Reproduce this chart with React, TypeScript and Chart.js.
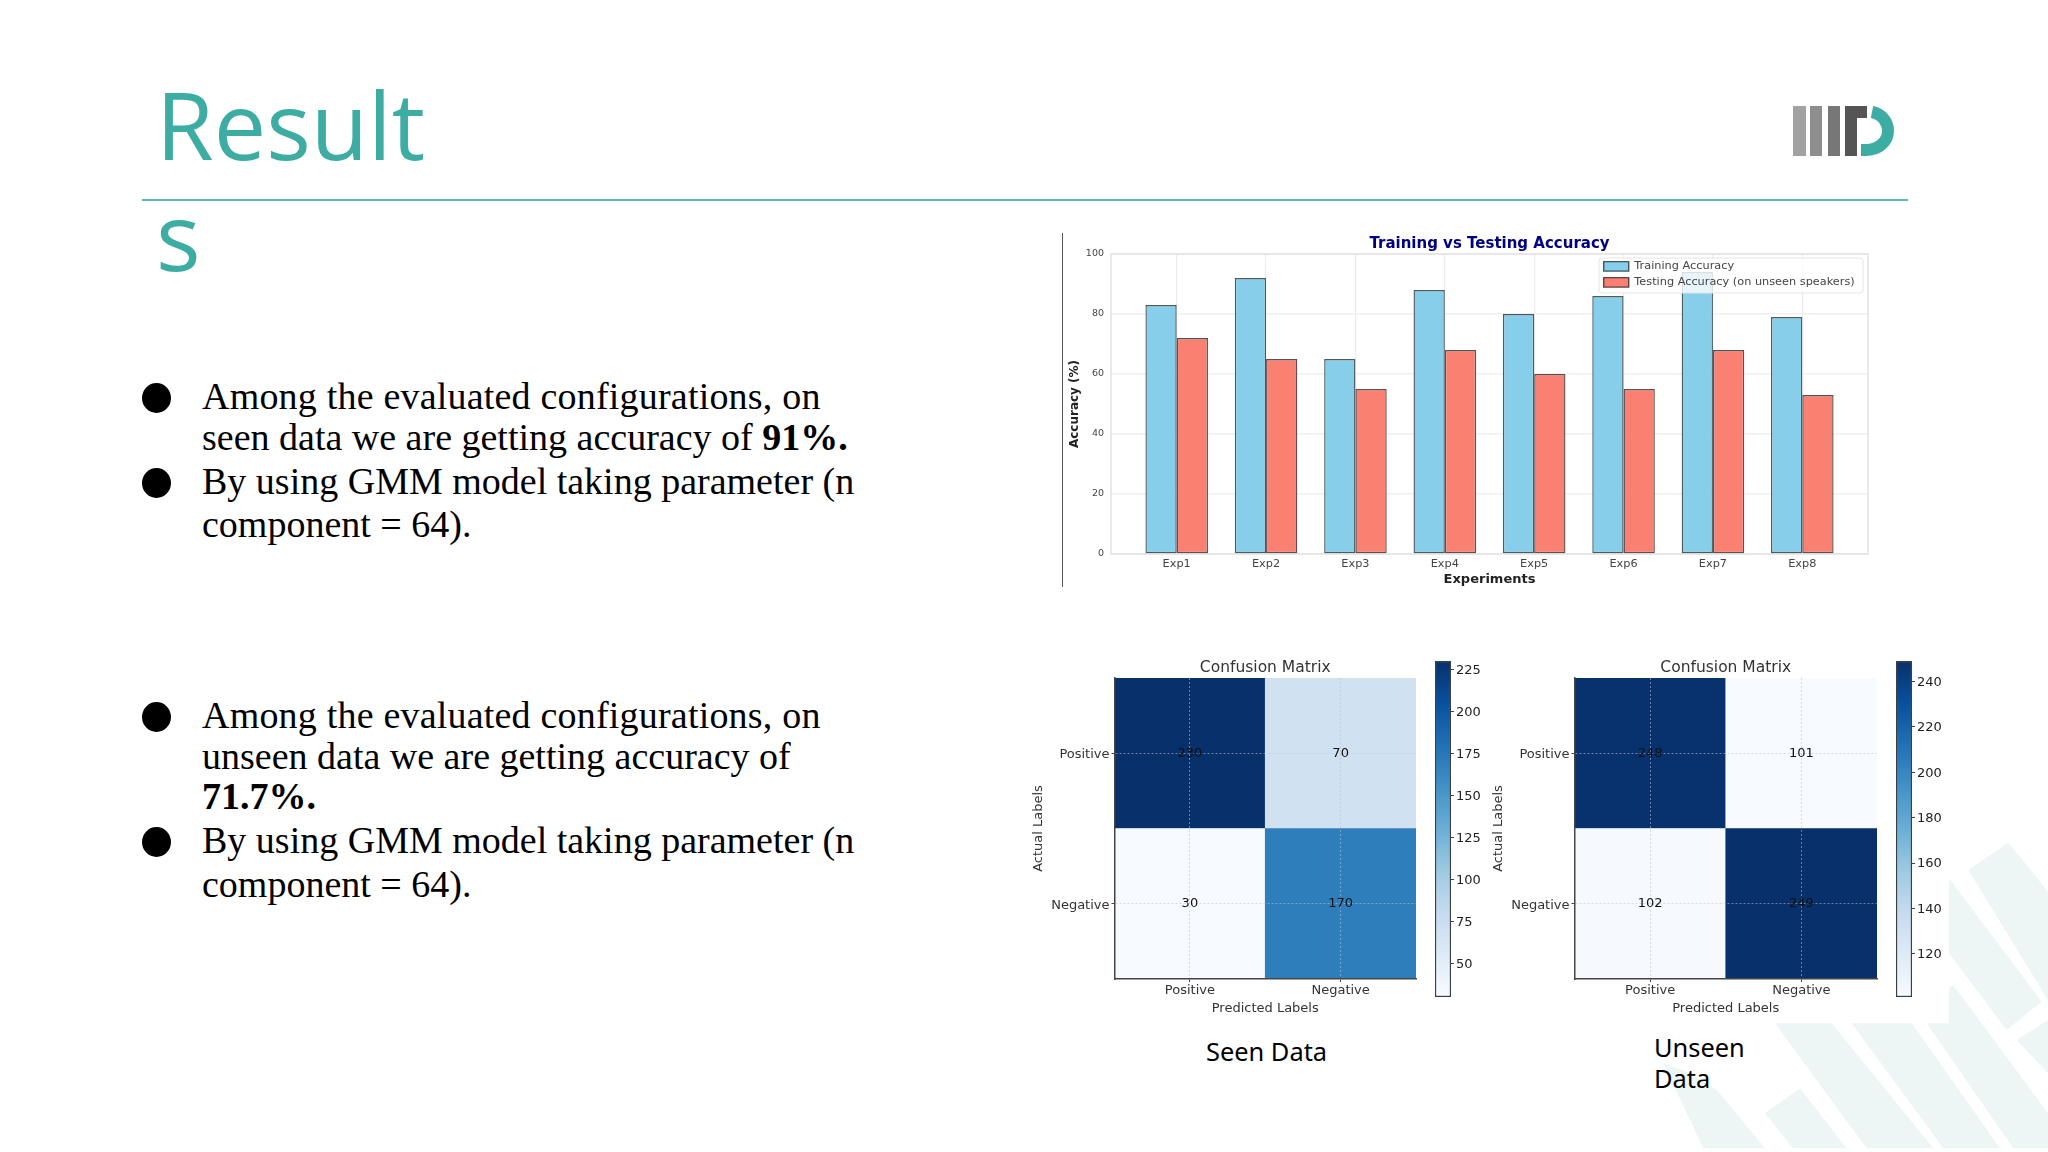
import React, { useEffect, useRef } from "react";
import { Chart, registerables } from "chart.js";

Chart.register(...registerables);
Chart.defaults.font.family = "'DejaVu Sans', sans-serif";

const experiments = ["Exp1", "Exp2", "Exp3", "Exp4", "Exp5", "Exp6", "Exp7", "Exp8"];
const trainingAccuracy = [83, 92, 65, 88, 80, 86, 94, 79];
const testingAccuracy = [72, 65, 55, 68, 60, 55, 68, 53];

const predictedLabels = ["Positive", "Negative"];
const actualLabels = ["Positive", "Negative"];
const seenMatrix = [
  [230, 70],
  [30, 170],
];
const unseenMatrix = [
  [248, 101],
  [102, 249],
];
const seenColorTicks = [50, 75, 100, 125, 150, 175, 200, 225];
const unseenColorTicks = [120, 140, 160, 180, 200, 220, 240];

const BLUES = ["#f7fbff", "#deebf7", "#c6dbef", "#9ecae1", "#6baed6", "#4292c6", "#2171b5", "#08519c", "#08306b"];

const TEAL = "#3dada3";

function hex(c: string) {
  return [1, 3, 5].map((i) => parseInt(c.slice(i, i + 2), 16));
}

// same lookup as matplotlib's Blues
function bluesAt(t: number) {
  const p = Math.min(Math.max(t, 0), 1) * (BLUES.length - 1);
  const i = Math.min(Math.floor(p), BLUES.length - 2);
  const a = hex(BLUES[i]);
  const b = hex(BLUES[i + 1]);
  const f = p - i;
  return `rgb(${a.map((v, k) => Math.round(v + (b[k] - v) * f)).join(",")})`;
}

function minMax(matrix: number[][]) {
  const flat = matrix.flat();
  return [Math.min(...flat), Math.max(...flat)];
}

function AccuracyChart() {
  const ref = useRef<HTMLCanvasElement | null>(null);

  useEffect(() => {
    if (!ref.current) return;

    const legendOnTop = {
      id: "legendOnTop",
      beforeLayout(chart: any) {
        const legend = chart.legend;
        legend._layers = () => [
          {
            z: 10,
            draw() {
              const c = chart.ctx;
              c.save();
              c.beginPath();
              c.roundRect(535, 24, 264, 35, 3);
              c.fillStyle = "rgba(255,255,255,0.8)";
              c.fill();
              c.strokeStyle = "#e4e4e4";
              c.lineWidth = 1;
              c.stroke();
              c.restore();
              legend.draw();
            },
          },
        ];
      },
      afterLayout(chart: any) {
        const legend = chart.legend;
        legend.left = 535;
        legend.top = 22;
        legend.right = chart.width;
        legend.bottom = chart.height;
        legend.width = chart.width - 535;
        legend.height = chart.height - 22;
      },
      beforeDatasetsDraw(chart: any) {
        const { ctx: c, chartArea: a } = chart;
        c.save();
        c.strokeStyle = "#e2e2e2";
        c.lineWidth = 1.5;
        c.strokeRect(a.left, a.top, a.right - a.left, a.bottom - a.top);
        c.restore();
      },
    };

    const chart = new Chart(ref.current, {
      type: "bar",
      data: {
        datasets: [
          {
            label: "Training Accuracy",
            data: trainingAccuracy.map((y, x) => ({ x, y })),
            backgroundColor: "#87ceeb",
            borderColor: "rgba(25,45,50,0.78)",
            borderWidth: 1.4,
            borderSkipped: false,
          },
          {
            label: "Testing Accuracy (on unseen speakers)",
            data: testingAccuracy.map((y, x) => ({ x, y })),
            backgroundColor: "#fa8072",
            borderColor: "rgba(50,30,30,0.78)",
            borderWidth: 1.4,
            borderSkipped: false,
          },
        ],
      },
      options: {
        responsive: false,
        animation: false,
        layout: { padding: { right: 12 } },
        datasets: { bar: { categoryPercentage: 0.7, barPercentage: 1 } },
        plugins: {
          tooltip: { enabled: false },
          title: {
            display: true,
            fullSize: false,
            text: "Training vs Testing Accuracy",
            color: "#000080",
            font: { size: 15, weight: "bold" },
            padding: { top: 1, bottom: 1 },
          },
          legend: {
            position: "chartArea",
            align: "start",
            labels: { boxWidth: 25, boxHeight: 9.5, padding: 4.7, color: "#444", font: { size: 11.3 } },
          },
        },
        scales: {
          x: {
            type: "linear",
            offset: false,
            min: -0.735,
            max: 7.735,
            afterBuildTicks: (axis: any) => {
              axis.ticks = experiments.map((_, value) => ({ value }));
            },
            afterFit: (s: any) => {
              s.height = 34;
            },
            ticks: {
              callback: (v: any) => experiments[v],
              color: "#444",
              font: { size: 11.3 },
              padding: 3,
              maxRotation: 0,
            },
            grid: { offset: false, color: "#ebebeb", lineWidth: 1.2, drawTicks: false },
            border: { display: false },
            title: {
              display: true,
              text: "Experiments",
              color: "#222",
              font: { size: 13, weight: "bold" },
              padding: { top: 0, bottom: 1 },
            },
          },
          y: {
            min: 0,
            max: 100,
            afterFit: (s: any) => {
              s.width = 47;
            },
            ticks: { stepSize: 20, color: "#444", font: { size: 9.5 }, padding: 7 },
            grid: { color: "#f0f0f0", lineWidth: 1.5, drawTicks: false },
            border: { display: false },
            title: {
              display: true,
              text: "Accuracy (%)",
              color: "#222",
              font: { size: 12, weight: "bold" },
              padding: { top: 4, bottom: 0 },
            },
          },
        },
      },
      plugins: [legendOnTop],
    } as any);

    return () => {
      chart.destroy();
    };
  }, []);

  return (
    <canvas
      ref={ref}
      width={816}
      height={354}
      style={{ position: "absolute", left: 1064, top: 234, display: "block" }}
    />
  );
}

function MatrixChart({ matrix, left, width }: { matrix: number[][]; left: number; width: number }) {
  const ref = useRef<HTMLCanvasElement | null>(null);

  useEffect(() => {
    if (!ref.current) return;
    const [lo, hi] = minMax(matrix);
    // rows stack from the bottom, so the last row goes first
    const rows = matrix.map((row, r) => ({ row, r })).reverse();

    const cellLabels = {
      id: "cellLabels",
      afterDraw(chart: any) {
        const c = chart.ctx;
        c.save();
        c.font = "13px 'DejaVu Sans'";
        c.fillStyle = "#111";
        c.textAlign = "center";
        c.textBaseline = "middle";
        rows.forEach(({ row }, d) => {
          chart.getDatasetMeta(d).data.forEach((bar: any, i: number) => {
            const p = bar.getCenterPoint();
            c.fillText(String(row[i]), p.x, p.y);
          });
        });
        c.restore();
      },
    };

    const chart = new Chart(ref.current, {
      type: "bar",
      data: {
        labels: predictedLabels,
        datasets: rows.map(({ row, r }) => ({
          label: actualLabels[r],
          data: row.map(() => 1),
          backgroundColor: row.map((v) => bluesAt((v - lo) / (hi - lo))),
          borderWidth: 0,
        })),
      },
      options: {
        responsive: false,
        animation: false,
        layout: { padding: { right: 6 } },
        datasets: { bar: { categoryPercentage: 1, barPercentage: 1 } },
        plugins: {
          tooltip: { enabled: false },
          legend: { display: false },
          title: {
            display: true,
            fullSize: false,
            text: "Confusion Matrix",
            color: "#333",
            font: { size: 15.5, weight: "normal" },
            padding: { top: 8.4, bottom: 1 },
          },
        },
        scales: {
          x: {
            stacked: true,
            afterFit: (s: any) => {
              s.height = 41;
            },
            ticks: { color: "#333", font: { size: 13 }, padding: 1, maxRotation: 0 },
            grid: {
              offset: false,
              z: 1,
              color: "rgba(190,195,205,0.55)",
              tickColor: "#444",
              tickLength: 3,
            },
            border: { z: 1, color: "#444", width: 1.5, dash: [2, 2] },
            title: {
              display: true,
              text: "Predicted Labels",
              color: "#333",
              font: { size: 13 },
              padding: { top: 0, bottom: 4 },
            },
          },
          y: {
            stacked: true,
            min: 0,
            max: 2,
            afterBuildTicks: (axis: any) => {
              axis.ticks = actualLabels.map((_, i) => ({ value: actualLabels.length - i - 0.5 }));
            },
            afterFit: (s: any) => {
              s.width = 94.5;
            },
            ticks: {
              callback: (v: any) => actualLabels[actualLabels.length - 0.5 - v],
              color: "#333",
              font: { size: 13 },
              padding: 2,
              labelOffset: 1.5,
            },
            grid: {
              z: 1,
              color: "rgba(190,195,205,0.55)",
              tickColor: "#444",
              tickLength: 3,
            },
            border: { z: 1, color: "#444", width: 1.5, dash: [2, 2] },
            title: {
              display: true,
              text: "Actual Labels",
              color: "#333",
              font: { size: 13 },
              padding: { top: 11, bottom: 0 },
            },
          },
        },
      },
      plugins: [cellLabels],
    } as any);

    return () => {
      chart.destroy();
    };
  }, [matrix]);

  return (
    <canvas
      ref={ref}
      width={width}
      height={370}
      style={{ position: "absolute", left, top: 650, display: "block" }}
    />
  );
}

function ColorBar({ matrix, ticks, left }: { matrix: number[][]; ticks: number[]; left: number }) {
  const ref = useRef<HTMLCanvasElement | null>(null);

  useEffect(() => {
    if (!ref.current) return;
    const [lo, hi] = minMax(matrix);

    const chart = new Chart(ref.current, {
      type: "bar",
      data: {
        labels: ["colour"],
        datasets: [
          {
            data: [[lo, hi]],
            backgroundColor: (ctx: any) => {
              const { ctx: c, chartArea } = ctx.chart;
              if (!chartArea) return BLUES[0];
              const g = c.createLinearGradient(0, chartArea.bottom, 0, chartArea.top);
              BLUES.forEach((col, i) => g.addColorStop(i / (BLUES.length - 1), col));
              return g;
            },
            borderColor: "#3a3f45",
            borderWidth: 1.5,
            borderSkipped: false,
          },
        ],
      },
      options: {
        responsive: false,
        animation: false,
        layout: { padding: { left: 4, top: 11, bottom: 13 } },
        datasets: { bar: { categoryPercentage: 1, barPercentage: 1 } },
        plugins: { tooltip: { enabled: false }, legend: { display: false } },
        scales: {
          x: { display: false },
          y: {
            position: "right",
            min: lo,
            max: hi,
            afterBuildTicks: (axis: any) => {
              axis.ticks = ticks.map((value) => ({ value }));
            },
            afterFit: (s: any) => {
              s.width = 40;
            },
            ticks: { color: "#222", font: { size: 13 }, padding: 2, labelOffset: 1 },
            grid: { drawOnChartArea: false, tickColor: "#444", tickLength: 3 },
            border: { display: false },
          },
        },
      },
    } as any);

    return () => {
      chart.destroy();
    };
  }, [matrix, ticks]);

  return (
    <canvas
      ref={ref}
      width={60}
      height={360}
      style={{ position: "absolute", left, top: 650, display: "block" }}
    />
  );
}

function Watermark() {
  return (
    <svg
      viewBox="0 0 1344 996"
      width={448}
      height={332}
      style={{ position: "absolute", left: 1600, top: 820 }}
    >
      <g fill="#edf6f4">
        <polygon points="1105,150 1225,68 1344,215 1344,540" />
        <polygon points="1047,175 1325,545 1220,630 1047,400" />
        <polygon points="525,610 695,610 1000,985 800,985" />
        <polygon points="755,610 935,610 1200,985 1030,985" />
        <polygon points="980,610 1047,610 1047,505 1060,495 1344,880 1344,985 1240,985" />
        <polygon points="1250,660 1344,600 1344,760" />
        <polygon points="190,730 270,760 350,810 495,985 310,985" />
        <polygon points="495,880 600,805 740,985 580,985" />
      </g>
    </svg>
  );
}

function Logo() {
  return (
    <svg width={2048} height={1152} style={{ position: "absolute", left: 0, top: 0 }}>
      <rect x={1793} y={106} width={13} height={50} fill="#a2a2a2" />
      <rect x={1810} y={106} width={12} height={50} fill="#8e8e8e" />
      <rect x={1828} y={106} width={12} height={50} fill="#777" />
      <polygon points="1845,106 1867,106 1867,118 1857,118 1857,156 1845,156" fill="#555" />
      <path
        d="M1872 112 C1882 114 1888 122 1888 131 C1888 142 1878 150 1866 150 L1861 150"
        fill="none"
        stroke={TEAL}
        strokeWidth={12}
      />
    </svg>
  );
}

function Line({ x, base, spacing, children }: { x: number; base: number; spacing?: number; children: React.ReactNode }) {
  return (
    <div
      style={{
        position: "absolute",
        left: x,
        top: base - 33,
        fontFamily: "'Liberation Serif', serif",
        fontSize: 38,
        lineHeight: "41px",
        letterSpacing: spacing || 0,
        color: "#000",
        whiteSpace: "nowrap",
      }}
    >
      {children}
    </div>
  );
}

function Bullet({ y }: { y: number }) {
  return (
    <div
      style={{
        position: "absolute",
        left: 142,
        top: y - 15,
        width: 29,
        height: 30,
        borderRadius: "50%",
        background: "#000",
      }}
    />
  );
}

function Caption({ x, y, children }: { x: number; y: number; children: React.ReactNode }) {
  return (
    <div
      style={{
        position: "absolute",
        left: x,
        top: y - 17,
        fontFamily: "'Noto Sans', sans-serif",
        fontSize: 25.4,
        lineHeight: "34px",
        color: "#000",
        whiteSpace: "nowrap",
      }}
    >
      {children}
    </div>
  );
}

export default function App() {
  return (
    <div
      style={{
        position: "absolute",
        left: 0,
        top: 0,
        width: 2048,
        height: 1152,
        overflow: "hidden",
        background: "#fff",
      }}
    >
      <Watermark />
      <Logo />

      <div
        style={{
          position: "absolute",
          left: 156,
          top: 61,
          fontFamily: "'Open Sans', sans-serif",
          fontSize: 93.5,
          lineHeight: "126px",
          color: TEAL,
        }}
      >
        Result
      </div>
      <div
        style={{
          position: "absolute",
          left: 156,
          top: 172,
          fontFamily: "'Open Sans', sans-serif",
          fontSize: 93.5,
          lineHeight: "126px",
          color: TEAL,
        }}
      >
        s
      </div>
      <div style={{ position: "absolute", left: 142, top: 199, width: 1766, height: 2, background: "#5fb7af" }} />

      <Bullet y={398} />
      <Line x={202} base={409} spacing={0.2}>Among the evaluated configurations, on</Line>
      <Line x={202} base={450}>
        seen data we are getting accuracy of <b>91%.</b>
      </Line>
      <Bullet y={483} />
      <Line x={202} base={494}>By using GMM model taking parameter (n</Line>
      <Line x={202} base={537}>component = 64).</Line>

      <Bullet y={717} />
      <Line x={202} base={728} spacing={0.2}>Among the evaluated configurations, on</Line>
      <Line x={202} base={769}>unseen data we are getting accuracy of</Line>
      <Line x={202} base={809}>
        <b>71.7%.</b>
      </Line>
      <Bullet y={842} />
      <Line x={202} base={853}>By using GMM model taking parameter (n</Line>
      <Line x={202} base={897}>component = 64).</Line>

      <div style={{ position: "absolute", left: 1062, top: 233, width: 1, height: 354, background: "#555" }} />
      <AccuracyChart />

      <MatrixChart matrix={seenMatrix} left={1020} width={402} />
      <ColorBar matrix={seenMatrix} ticks={seenColorTicks} left={1431} />
      <MatrixChart matrix={unseenMatrix} left={1480} width={403} />
      <ColorBar matrix={unseenMatrix} ticks={unseenColorTicks} left={1892} />

      <Caption x={1206} y={1051}>Seen Data</Caption>
      <Caption x={1654} y={1047}>Unseen</Caption>
      <Caption x={1654} y={1078}>Data</Caption>
    </div>
  );
}
